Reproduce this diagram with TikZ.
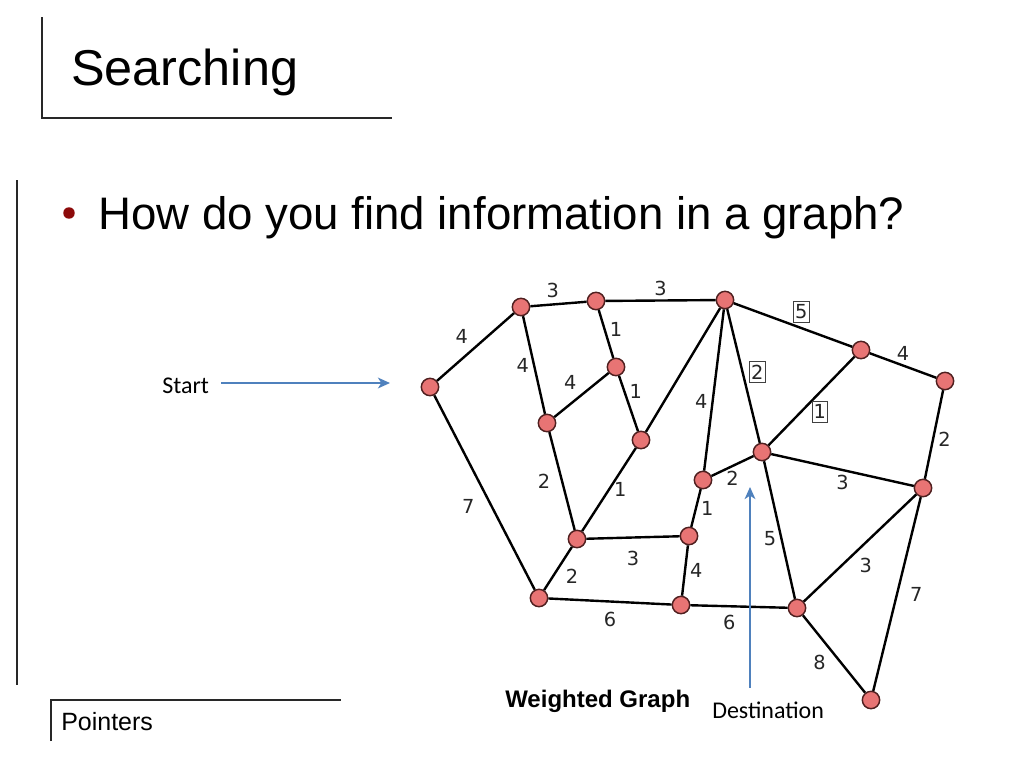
\documentclass[tikz,border=0pt]{standalone}
\usepackage{fontspec}
\setmainfont{Liberation Sans}
\newfontfamily\calibri{Carlito}
\newfontfamily\weightfont{DejaVu Sans}
\usetikzlibrary{arrows.meta}
\definecolor{nodefill}{RGB}{232,116,116}
\definecolor{nodeline}{RGB}{80,32,32}
\definecolor{pointerblue}{RGB}{79,129,189}
\definecolor{bulletred}{RGB}{140,10,10}
\definecolor{frameline}{RGB}{40,40,40}
\tikzset{main node/.style={circle,fill=nodefill,draw=nodeline,line width=1.1pt,minimum size=13pt,inner sep=0pt},
         weight/.style={font=\weightfont\fontsize{14.5}{16}\selectfont,text=black!85,inner sep=3pt},
         boxed weight/.style={weight,draw=black!75,line width=0.6pt,inner xsep=1.2pt,inner ysep=2.5pt},
         pointer/.style={draw=pointerblue,line width=1.8pt,-{Stealth[length=9pt,width=8pt,inset=2.5pt]}},
         frame line/.style={draw=frameline,line width=1.1pt},
         slide text/.style={anchor=base west,inner sep=0pt},
            }

\begin{document}
\begin{tikzpicture}[x=0.75pt,y=-0.75pt]
    \useasboundingbox[fill=white] (0,0) rectangle (1024,768);

    % slide frame
    \draw[frame line] (42,17) -- (42,118) -- (392,118);
    \draw[frame line] (17,180) -- (17,685);
    \draw[frame line] (51,741) -- (51,700) -- (341,700);
    \node[slide text,font=\fontsize{37.8}{45}\selectfont] (title) at (71,85) {Searching};
    \fill[bulletred] (69,213) circle (4.3pt);
    \node[slide text,font=\fontsize{34.2}{40}\selectfont] (question) at (98,229) {How do you find information in a graph?};
    \node[slide text,font=\fontsize{18.75}{22}\selectfont] (footer) at (61,730) {Pointers};

    % the graph
    \node[main node] (1) at (430,387) {};
    \node[main node] (2) at (521,307) {};
    \node[main node] (3) at (596,301) {};
    \node[main node] (4) at (725,300) {};
    \node[main node] (5) at (616,367) {};
    \node[main node] (6) at (547,423) {};
    \node[main node] (7) at (641,440) {};
    \node[main node] (8) at (861,350) {};
    \node[main node] (9) at (945,381) {};
    \node[main node] (10) at (762,452) {};
    \node[main node] (11) at (703,480) {};
    \node[main node] (12) at (923,488) {};
    \node[main node] (13) at (577,539) {};
    \node[main node] (14) at (689,536) {};
    \node[main node] (15) at (539,598) {};
    \node[main node] (16) at (681,605) {};
    \node[main node] (17) at (797,608) {};
    \node[main node] (18) at (871,700) {};

    \path[draw,line width=1.8pt]
    (1) edge node[weight,above left,pos=.47] {4} (2)
    (2) edge node[weight,above=1pt,pos=.4] {3} (3)
    (3) edge node[weight,above] {3} (4)
    (4) edge node[boxed weight,above=4pt,pos=.57] {5} (8)
    (8) edge node[weight,above] {4} (9)
    (2) edge node[weight,left] {4} (6)
    (3) edge node[weight,right,pos=.4] {1} (5)
    (5) edge node[weight,above left] {4} (6)
    (5) edge node[weight,right,pos=.28] {1} (7)
    (4) edge (7)
    (4) edge node[weight,left,pos=.57] {4} (11)
    (4) edge node[boxed weight,right=5pt,pos=.47] {2} (10)
    (8) edge node[boxed weight,below right] {1} (10)
    (9) edge node[weight,right,pos=.55] {2} (12)
    (10) edge node[weight,below] {2} (11)
    (10) edge node[weight,below] {3} (12)
    (10) edge node[weight,left,pos=.56] {5} (17)
    (11) edge node[weight,right] {1} (14)
    (6) edge node[weight,left=5pt] {2} (13)
    (7) edge node[weight,right] {1} (13)
    (13) edge node[weight,below=6pt] {3} (14)
    (13) edge node[weight,below right,pos=.4] {2} (15)
    (1) edge node[weight,left=9pt,pos=.57] {7} (15)
    (14) edge node[weight,right] {4} (16)
    (15) edge node[weight,below=4pt] {6} (16)
    (16) edge node[weight,below=3pt,pos=.4] {6} (17)
    (17) edge node[weight,below right,pos=.45] {3} (12)
    (12) edge node[weight,right=6pt] {7} (18)
    (17) edge node[weight,below left,pos=.45] {8} (18);

    \node[slide text,font=\bfseries\fontsize{18}{22}\selectfont] (caption) at (505,707) {Weighted Graph};

    % start and destination pointers
    \node[slide text,font=\calibri\fontsize{18}{22}\selectfont] (start) at (162,393) {Start};
    \node[slide text,font=\calibri\fontsize{18}{22}\selectfont] (dest) at (712,718) {Destination};
    \coordinate (start tip) at (390,383);
    \coordinate (dest tip) at (750,487);
    \draw[pointer,shorten <=9pt] (start.east |- start tip) -- (start tip);
    \draw[pointer,shorten <=10pt] (dest.north -| dest tip) -- (dest tip);
\end{tikzpicture}
\end{document}
